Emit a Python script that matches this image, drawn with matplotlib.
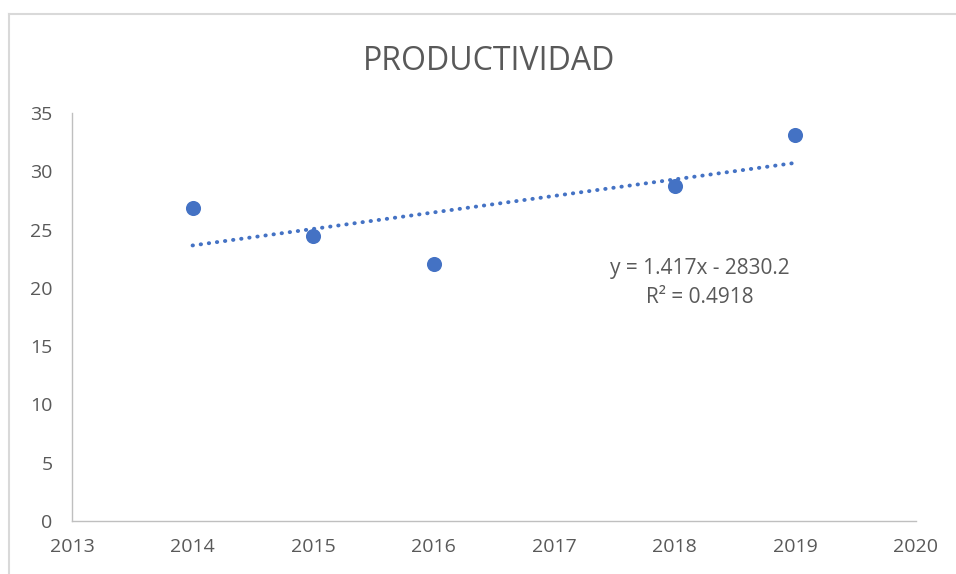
import numpy as np
import matplotlib.pyplot as plt
from matplotlib.lines import Line2D

plt.rcParams['font.family'] = ['Open Sans', 'DejaVu Sans']

anios = [2014, 2015, 2016, 2018, 2019]
productividad = [26.85, 24.45, 22.05, 28.75, 33.1]
pendiente = 1.417
intercepto = -2830.2
r2 = 0.4918
x_ticks = [2013, 2014, 2015, 2016, 2017, 2018, 2019, 2020]
y_ticks = [0, 5, 10, 15, 20, 25, 30, 35]

azul = "#4472C4"
gris_txt = "#595959"
gris_eje = "#D9D9D9"

fig = plt.figure(figsize=(9.56, 5.74), dpi=100)
ax = fig.add_axes([72 / 956, 53 / 574, (916 - 72) / 956, (521 - 113) / 574])

# borde del area del grafico (recortado a la derecha y abajo)
fig.add_artist(Line2D([9 / 956, 1], [1 - 14 / 574, 1 - 14 / 574], color=gris_eje, lw=1.5))
fig.add_artist(Line2D([9 / 956, 9 / 956], [0, 1 - 14 / 574], color=gris_eje, lw=1.5))

ax.scatter(anios, productividad, s=118, color=azul, zorder=3, linewidths=0)

# linea de tendencia lineal
xt = np.array([anios[0], anios[-1]])
ax.plot(xt, pendiente * xt + intercepto, color=azul, lw=2.8,
        linestyle=(0, (0.1, 2.0)), dash_capstyle='round', zorder=2)

ax.text(2018.21, 21.7, f"y = {pendiente}x - {abs(intercepto)}", ha='center', va='center',
        fontsize=15, color=gris_txt)
ax.text(2018.21, 19.2, f"R² = {r2}", ha='center', va='center', fontsize=15, color=gris_txt)

ax.set_xlim(2013, 2020)
ax.set_ylim(0, 35)
ax.set_xticks(x_ticks)
ax.set_yticks(y_ticks)
ax.tick_params(length=0, labelsize=14, labelcolor=gris_txt)
ax.tick_params(axis='x', pad=12)
ax.tick_params(axis='y', pad=14)

for s in ['top', 'right']:
    ax.spines[s].set_visible(False)
for s in ['left', 'bottom']:
    ax.spines[s].set_color("#BFBFBF")
    ax.spines[s].set_linewidth(1.0)

fig.text(489 / 956, 1 - 62 / 574, "PRODUCTIVIDAD", ha='center', va='center',
         fontsize=23, color=gris_txt)

plt.savefig("out.png", dpi=100)
